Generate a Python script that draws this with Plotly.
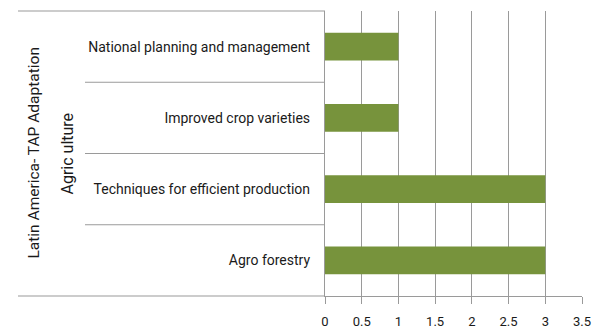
import plotly.graph_objects as go

# Technology categories, listed bottom to top
categories = [
    "Agro forestry",
    "Techniques for efficient production",
    "Improved crop varieties",
    "National planning and management",
]
counts = [3, 3, 1, 1]
x_ticks = [0, 0.5, 1, 1.5, 2, 2.5, 3, 3.5]
x_tick_labels = ["0", "0.5", "1", "1.5", "2", "2.5", "3", "3.5"]
sector_label = "Agric ulture"
region_label = "Latin America- TAP Adaptation"

FONT = "Roboto, sans-serif"
TEXT = "#1a1a1a"
LINE = "#9a9a9a"
BAR = "#77933C"

W, H = 601, 329
L, R, T, B = 325, 19, 11, 33
plot_w = W - L - R


def px_to_paper_x(px):
    return (px - L) / plot_w


fig = go.Figure(
    go.Bar(
        x=counts,
        y=categories,
        orientation="h",
        marker=dict(color=BAR, line=dict(width=0)),
        width=0.39,
    )
)

shapes = []
# top border over the label block
shapes.append(dict(type="line", xref="paper", yref="paper",
                   x0=px_to_paper_x(18), x1=0, y0=1, y1=1,
                   line=dict(color=LINE, width=1.2)))
# bottom border extended under the label block
shapes.append(dict(type="line", xref="paper", yref="paper",
                   x0=px_to_paper_x(18), x1=0, y0=0, y1=0,
                   line=dict(color=LINE, width=1.2)))
# separators between category rows
for k in range(len(categories) - 1):
    shapes.append(dict(type="line", xref="paper", yref="y",
                       x0=px_to_paper_x(85), x1=0, y0=k + 0.5, y1=k + 0.5,
                       line=dict(color=LINE, width=1.2)))

annotations = [
    dict(text=sector_label, xref="paper", yref="paper",
         x=px_to_paper_x(67), y=0.5, textangle=-90, showarrow=False,
         xanchor="center", yanchor="middle",
         font=dict(family=FONT, size=16, color=TEXT)),
    dict(text=region_label, xref="paper", yref="paper",
         x=px_to_paper_x(33), y=0.5, textangle=-90, showarrow=False,
         xanchor="center", yanchor="middle",
         font=dict(family=FONT, size=15.5, color=TEXT)),
]

fig.update_layout(
    width=W, height=H,
    margin=dict(l=L, r=R, t=T, b=B, autoexpand=False),
    paper_bgcolor="white", plot_bgcolor="white",
    showlegend=False,
    shapes=shapes,
    annotations=annotations,
    font=dict(family=FONT, size=13, color=TEXT),
    xaxis=dict(
        range=[0, 3.5], tickvals=x_ticks, ticktext=x_tick_labels,
        showgrid=True, gridcolor=LINE, gridwidth=1.2,
        showline=True, linecolor=LINE, linewidth=1.2,
        ticks="outside", ticklen=7, tickcolor=LINE, tickwidth=1.2,
        ticklabelstandoff=6,
        zeroline=False, fixedrange=True, automargin=False,
        tickfont=dict(family=FONT, size=13),
    ),
    yaxis=dict(
        categoryorder="array", categoryarray=categories,
        range=[-0.5, len(categories) - 0.5],
        showgrid=False, showline=True, linecolor=LINE, linewidth=1.2,
        ticks="", ticklabelstandoff=11, zeroline=False, automargin=False,
        tickfont=dict(family=FONT, size=14),
    ),
)

fig.write_html("out.html")
